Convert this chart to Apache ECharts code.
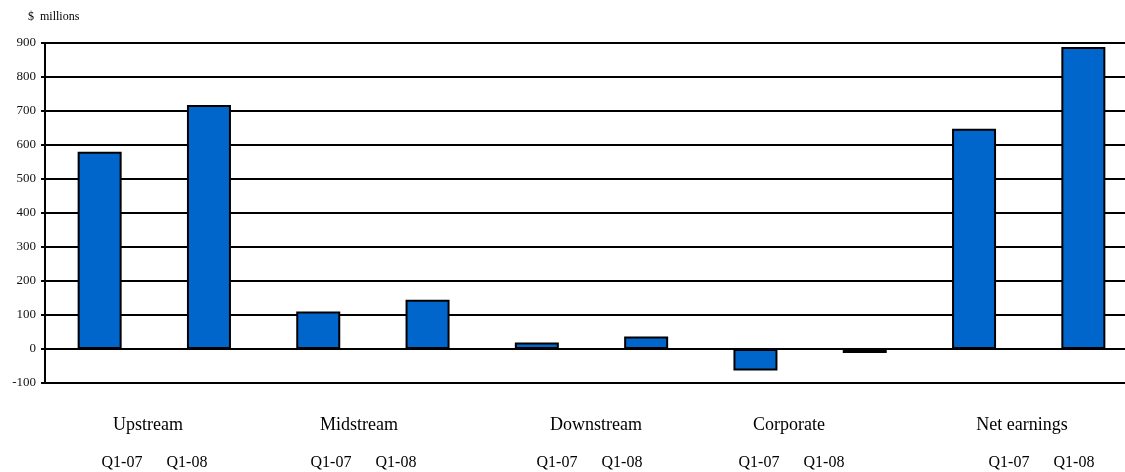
<!DOCTYPE html>
<html>
<head>
<meta charset="utf-8">
<script src="https://cdn.jsdelivr.net/npm/echarts@6/dist/echarts.min.js"></script>
<style>
  html, body { margin: 0; padding: 0; background: #fff; }
  #chart { width: 1125px; height: 472px; }
</style>
</head>
<body>
<div id="chart"></div>
<script>
// data
var bars = ['Upstream Q1-07', 'Upstream Q1-08', 'Midstream Q1-07', 'Midstream Q1-08',
            'Downstream Q1-07', 'Downstream Q1-08', 'Corporate Q1-07', 'Corporate Q1-08',
            'Net earnings Q1-07', 'Net earnings Q1-08'];
var earnings = [580, 718, 110, 145, 19, 37, -63, -12, 648, 888];
var groupNames = ['Upstream', 'Midstream', 'Downstream', 'Corporate', 'Net earnings'];
var quarterNames = ['Q1-07', 'Q1-08'];
var yTicks = { min: -100, max: 900, step: 100 };

// label placement (pixels) under each group
var groupLabelX = [148, 359, 596, 789, 1022];
var quarterPairX = [155, 364, 590, 792, 1042];

var font = '"Liberation Serif", "Times New Roman", serif';

var myChart = echarts.init(document.getElementById('chart'));

var graphics = [{
    type: 'text', left: 28, top: 11,
    style: { text: '$  millions', font: '12px ' + font, fill: '#000' }
}];
groupNames.forEach(function (name, i) {
    graphics.push({
        type: 'text', x: groupLabelX[i], y: 425,
        style: { text: name, font: '18px ' + font, fill: '#000', align: 'center', verticalAlign: 'middle' }
    });
    quarterNames.forEach(function (q, j) {
        graphics.push({
            type: 'text', x: quarterPairX[i] + (j === 0 ? -33 : 32), y: 463,
            style: { text: q, font: '16px ' + font, fill: '#000', align: 'center', verticalAlign: 'middle' }
        });
    });
});

myChart.setOption({
    animation: false,
    backgroundColor: '#fff',
    grid: { left: 45, width: 1093, top: 43, height: 340, outerBoundsMode: 'none', containLabel: false },
    xAxis: {
        type: 'category',
        data: bars,
        axisLine: { show: true, onZero: true, lineStyle: { color: '#000', width: 2 } },
        axisTick: { show: false },
        axisLabel: { show: false },
        splitLine: { show: false }
    },
    yAxis: {
        type: 'value',
        min: yTicks.min,
        max: yTicks.max,
        interval: yTicks.step,
        axisLine: { show: true, lineStyle: { color: '#000', width: 2 } },
        axisTick: { show: true, length: 4, lineStyle: { color: '#000', width: 2 } },
        axisLabel: { color: '#111', fontSize: 13, fontFamily: font, margin: 9 },
        splitLine: { show: true, lineStyle: { color: '#000', width: 2 } }
    },
    series: [{
        type: 'bar',
        data: earnings,
        barWidth: 44,
        itemStyle: { color: '#0066CC', borderColor: '#000', borderWidth: 2 }
    }],
    graphic: graphics
});
</script>
</body>
</html>
